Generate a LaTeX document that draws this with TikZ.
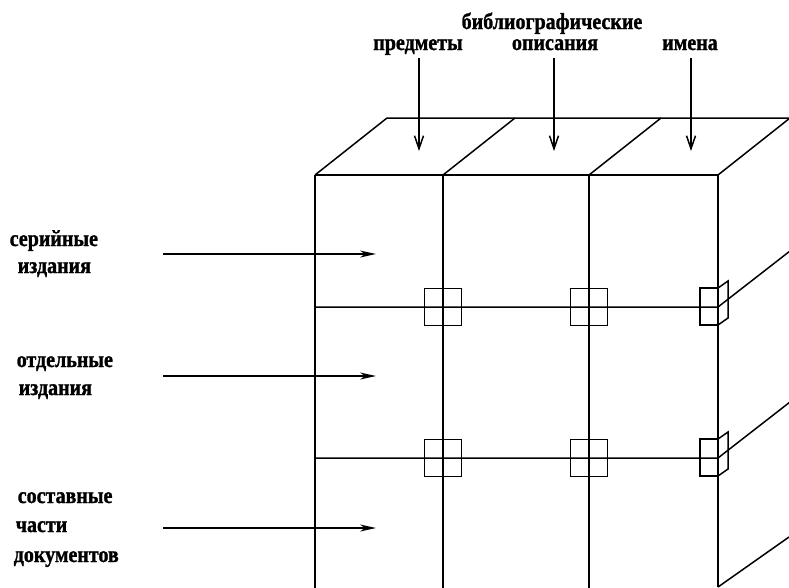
\documentclass[tikz,border=0pt]{standalone}
\usepackage{fontspec}
\setmainfont{Liberation Serif}
\newfontfamily\lblfont{Liberation Serif}[FakeStretch=0.87,BoldFeatures={FakeBold=1.2}]
\usetikzlibrary{arrows.meta}
\begin{document}
\begin{tikzpicture}[x=1pt,y=-1pt,line width=1.5pt,
  lbl/.style={font=\lblfont\bfseries\fontsize{23}{26}\selectfont, inner sep=0pt},
  sq/.style={draw, minimum size=37pt, inner sep=0pt, line width=1.5pt},
  toparrow/.style={-{Straight Barb[length=13pt,width=9pt]}, line width=1.5pt},
  leftarrow/.style={-{Stealth[length=16pt,width=7pt,inset=5pt]}, line width=1.5pt}]
\useasboundingbox (0,0) rectangle (789,587);
\clip (0,0) rectangle (789,587);
% front face corners
\coordinate (fl) at (315,175);
\coordinate (f1) at (443,175);
\coordinate (f2) at (589,175);
\coordinate (fr) at (718,175);
% front face verticals
\draw (fl) -- (315,590);
\draw (f1) -- (443,590);
\draw (f2) -- (589,590);
\draw (fr) -- (718,587);
\draw (fl) -- (fr);
% top face
\coordinate (bl) at (387,118);
\coordinate (br) at (800,118);
\draw (fl) -- (bl) -- (br);
\draw (f1) -- ++(72,-57);
\draw (f2) -- ++(72,-57);
\draw (fr) -- ++(72,-57);
% horizontal divisions
\coordinate (h1l) at (315,307);
\coordinate (h1r) at (718,307);
\coordinate (h2l) at (315,458);
\coordinate (h2r) at (718,458);
\coordinate (bot) at (718,587);
\draw (h1l) -- (h1r) -- ++(72,-56);
\draw (h2l) -- (h2r) -- ++(72,-56);
\draw (bot) -- (789,537);
% junction squares
\node[sq] (s11) at (443,307) {};
\node[sq] (s12) at (589,307) {};
\node[sq] (s21) at (443,458) {};
\node[sq] (s22) at (589,458) {};
\draw (718,288) -- (700,288) -- (700,325) -- (718,325);
\draw (718,288) -- (728,281) -- (728,318) -- (718,325);
\draw (718,439) -- (700,439) -- (700,476) -- (718,476);
\draw (718,439) -- (728,432) -- (728,469) -- (718,476);
% top labels
\node[lbl, anchor=base] (tp) at (418,50) {предметы};
\node[lbl, anchor=base] (tb) at (552,29) {библиографические};
\node[lbl, anchor=base] (to) at (555,50) {описания};
\node[lbl, anchor=base] (ti) at (690,50) {имена};
\coordinate (a1s) at (419,58);
\coordinate (a1e) at (419,151);
\coordinate (a2s) at (554,58);
\coordinate (a2e) at (554,151);
\coordinate (a3s) at (691,58);
\coordinate (a3e) at (691,151);
\draw[toparrow] (a1s) -- (a1e);
\draw[toparrow] (a2s) -- (a2e);
\draw[toparrow] (a3s) -- (a3e);
% left labels
\node[lbl, anchor=base west] (l1a) at (9,246) {серийные};
\node[lbl, anchor=base west] (l1b) at (17,273) {издания};
\node[lbl, anchor=base west] (l2a) at (16,367) {отдельные};
\node[lbl, anchor=base west] (l2b) at (18,395) {издания};
\node[lbl, anchor=base west] (l3a) at (17,503) {составные};
\node[lbl, anchor=base west] (l3b) at (15,532) {части};
\node[lbl, anchor=base west] (l3c) at (13,562) {документов};
\coordinate (b1s) at (163,254);
\coordinate (b1e) at (376,254);
\coordinate (b2s) at (163,376);
\coordinate (b2e) at (376,376);
\coordinate (b3s) at (163,528);
\coordinate (b3e) at (376,528);
\draw[leftarrow] (b1s) -- (b1e);
\draw[leftarrow] (b2s) -- (b2e);
\draw[leftarrow] (b3s) -- (b3e);
\end{tikzpicture}
\end{document}
